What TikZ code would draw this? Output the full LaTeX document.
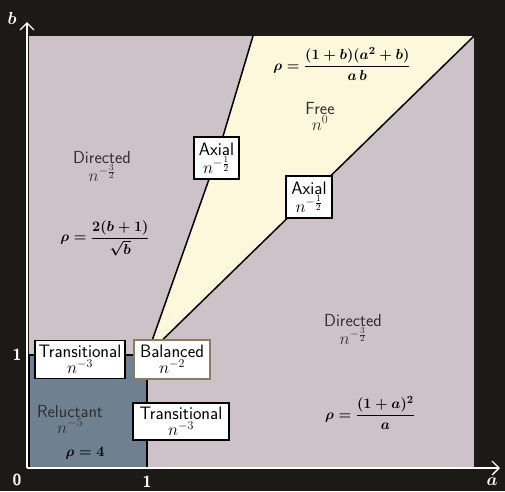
\documentclass[tikz,border=0pt]{standalone}
\usepackage{amsmath,bm}
\usepackage{fontspec}
\usetikzlibrary{arrows.meta}
\definecolor{bg}{HTML}{1C1A17}
\definecolor{mauve}{HTML}{CDC2C7}
\definecolor{freeyel}{HTML}{FDF7DC}
\definecolor{relu}{HTML}{6F8091}
\definecolor{balb}{HTML}{8B7B63}
\definecolor{lbl}{HTML}{2E2E2E}
\tikzset{
  phasebox/.style={draw=black, fill=white, line width=1.6pt, align=center, inner sep=0pt, font=\sffamily\fontsize{18}{16}\selectfont},
  region/.style={align=center, text=lbl, font=\sffamily\fontsize{17.5}{16}\selectfont},
  formtext/.style={text=black, font=\fontsize{15.5}{17}\selectfont\boldmath},
  axislbl/.style={text=white, font=\sffamily\bfseries\fontsize{16}{17}\selectfont},
  boundary/.style={line width=1.5pt, black},
  axisline/.style={white, line width=1.4pt, -{Straight Barb[length=7pt,width=14pt,line width=1.4pt]}}
}
\begin{document}
\begin{tikzpicture}[x=1pt,y=-1pt]
\fill[bg] (0,0) rectangle (505,491);
\useasboundingbox (0,0) rectangle (505,491);
% plot area
\fill[mauve] (29,36) rectangle (474,468);
\coordinate (V) at (147,355);
\coordinate (TL) at (253,36);
\coordinate (TR) at (474,36);
\coordinate (A1c) at (216.5,158);
\coordinate (A2c) at (309,197);
\fill[freeyel] (V) -- (A1c) -- (TL) -- (TR) -- (A2c) -- cycle;
\draw[boundary] (V) -- (A1c) -- (TL);
\draw[boundary] (V) -- (A2c) -- (TR);
% reluctant region
\fill[relu, draw=black, line width=1.2pt] (29,355) rectangle (147,468);
% axes
\coordinate (O) at (27,468);
\coordinate (Ytip) at (27,22);
\coordinate (Xtip) at (500,468);
\draw[axisline] (O) -- (Ytip);
\draw[axisline] (O) -- (Xtip);
\node[axislbl] (lb) at (12,18) {$\bm{b}$};
\node[axislbl] (la) at (492,482) {$\bm{a}$};
\node[axislbl] (l0) at (17,480) {0};
\node[axislbl] (l1x) at (147,482) {1};
\node[axislbl] (l1y) at (17,355) {1};
% region labels
\node[region] (dir1) at (102,166) {Directed\\$n^{-\frac{3}{2}}$};
\node[region] (free) at (320,116) {Free\\$n^{0}$};
\node[region] (dir2) at (353,329) {Directed\\$n^{-\frac{3}{2}}$};
\node[region] (rel) at (70,419) {Reluctant\\$n^{-5}$};
% boxes
\node[phasebox, minimum width=45pt, minimum height=42pt] (ax1) at (A1c) {Axial\\$n^{-\frac{1}{2}}$};
\node[phasebox, minimum width=46pt, minimum height=42pt] (ax2) at (A2c) {Axial\\$n^{-\frac{1}{2}}$};
\node[phasebox, minimum width=90pt, minimum height=38pt] (tr1) at (80,359.5) {Transitional\\$n^{-3}$};
\node[phasebox, draw=balb, minimum width=76pt, minimum height=39pt] (bal) at (172,359.5) {Balanced\\$n^{-2}$};
\node[phasebox, minimum width=96pt, minimum height=37pt] (tr2) at (181,421.5) {Transitional\\$n^{-3}$};
% formulas
\node[formtext] (f1) at (105,238) {$\rho=\dfrac{2(b+1)}{\sqrt{b}}$};
\node[formtext] (f2) at (342,64) {$\rho=\dfrac{(1+b)(a^2+b)}{a\,b}$};
\node[formtext] (f3) at (370,413) {$\rho=\dfrac{(1+a)^2}{a}$};
\node[formtext] (f4) at (85,453) {$\rho=4$};
\end{tikzpicture}
\end{document}
